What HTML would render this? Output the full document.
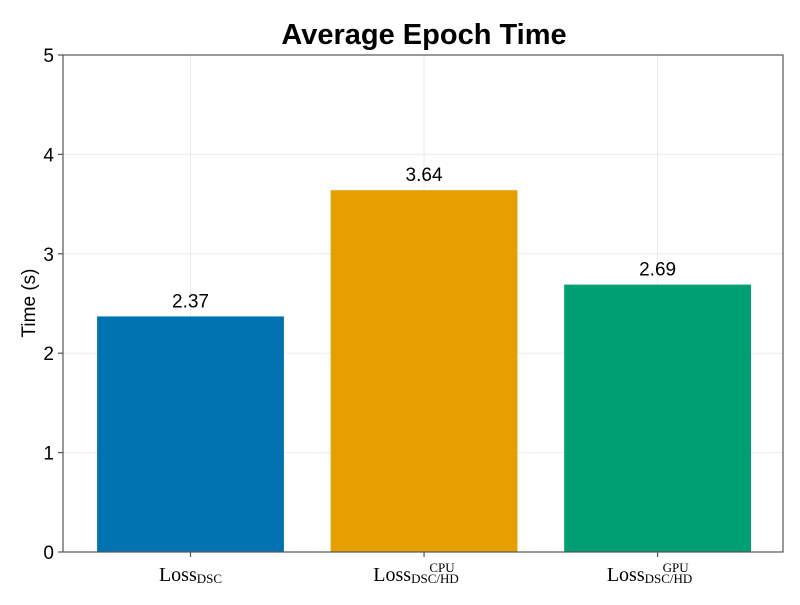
<!DOCTYPE html>
<html><head><meta charset="utf-8"><style>
body{margin:0;background:#fff}
svg text{font-family:"Liberation Sans",sans-serif}
.ser{font-family:"Liberation Serif",serif}
</style></head><body>
<svg id="chart" width="800" height="600" xmlns="http://www.w3.org/2000/svg">
<rect width="800" height="600" fill="#fff"/>
<text x="424" y="44" text-anchor="middle" font-size="29" font-weight="bold">Average Epoch Time</text>
<text transform="translate(35,303) rotate(-90)" text-anchor="middle" font-size="19">Time (s)</text>
<g id="grid"></g>
<g id="bars"></g>
<rect x="63" y="55" width="720" height="497" fill="none" stroke="#555" stroke-width="1.2"/>
<g id="yticks"></g>
<g id="xticks"></g>
</svg>
<script>
const categories = ["DSC", "CPU", "GPU"];
const values = [2.37, 3.64, 2.69];
const valueLabels = ["2.37", "3.64", "2.69"];
const colors = ["#0072b2", "#e69f00", "#009e73"];
const yTicks = [0, 1, 2, 3, 4, 5];

const NS = "http://www.w3.org/2000/svg";
const L = 63, R = 783, T = 55, B = 552;
const xmin = 0.454, xmax = 3.537, ymin = 0, ymax = 5;
function xs(v){return L + (v - xmin) / (xmax - xmin) * (R - L);}
function ys(v){return B - (v - ymin) / (ymax - ymin) * (B - T);}
function mk(tag, attrs, parent){const e=document.createElementNS(NS,tag);for(const k in attrs)e.setAttribute(k,attrs[k]);parent.appendChild(e);return e;}

const grid = document.getElementById('grid');
const yt = document.getElementById('yticks');
yTicks.forEach(t=>{
  const g = mk('line',{x1:L,x2:R,y1:ys(t),y2:ys(t),stroke:'#ebebeb','stroke-width':1},grid);
  
  
  const tk = mk('line',{x1:L-5,x2:L,y1:ys(t),y2:ys(t),stroke:'#555','stroke-width':1.2},yt);
  
  
  const lb = mk('text',{x:L-9,y:ys(t)+7,'text-anchor':'end','font-size':19},yt);
  lb.textContent = t;
  
  
});
[1,2,3].forEach(c=>{
  const g = mk('line',{x1:xs(c),x2:xs(c),y1:T,y2:B,stroke:'#ebebeb','stroke-width':1},grid);
  
  
});

const bars = document.getElementById('bars');
const xt = document.getElementById('xticks');
const bw = 0.8;
categories.forEach((c,i)=>{
  const cx = i+1;
  const x0 = xs(cx-bw/2), x1 = xs(cx+bw/2);
  const r = mk('rect',{x:x0,y:ys(values[i]),width:x1-x0,height:ys(0)-ys(values[i]),fill:colors[i]},bars);
  
  
  const vl = mk('text',{x:xs(cx),y:ys(values[i])-9,'text-anchor':'middle','font-size':19},bars);
  vl.textContent = valueLabels[i];
  
  
  const tk = mk('line',{x1:xs(cx),x2:xs(cx),y1:B,y2:B+5,stroke:'#555','stroke-width':1.2},xt);
  
  
  const lab = mk('text',{x:xs(cx),y:581,'text-anchor':'middle','class':'ser','font-size':20},xt);
  
  
  if(c==='DSC'){
    lab.innerHTML = 'Loss<tspan font-size="13" dy="2">DSC</tspan>';
  } else {
    lab.setAttribute('x', xs(cx)-8);
    lab.innerHTML = 'Loss<tspan font-size="13" dy="2">DSC/HD</tspan>';
    const sup = mk('text',{x:xs(cx)+18,y:572,'text-anchor':'middle','class':'ser','font-size':13},xt);
    sup.textContent = c;
    
    
  }
});
</script>
</body></html>
